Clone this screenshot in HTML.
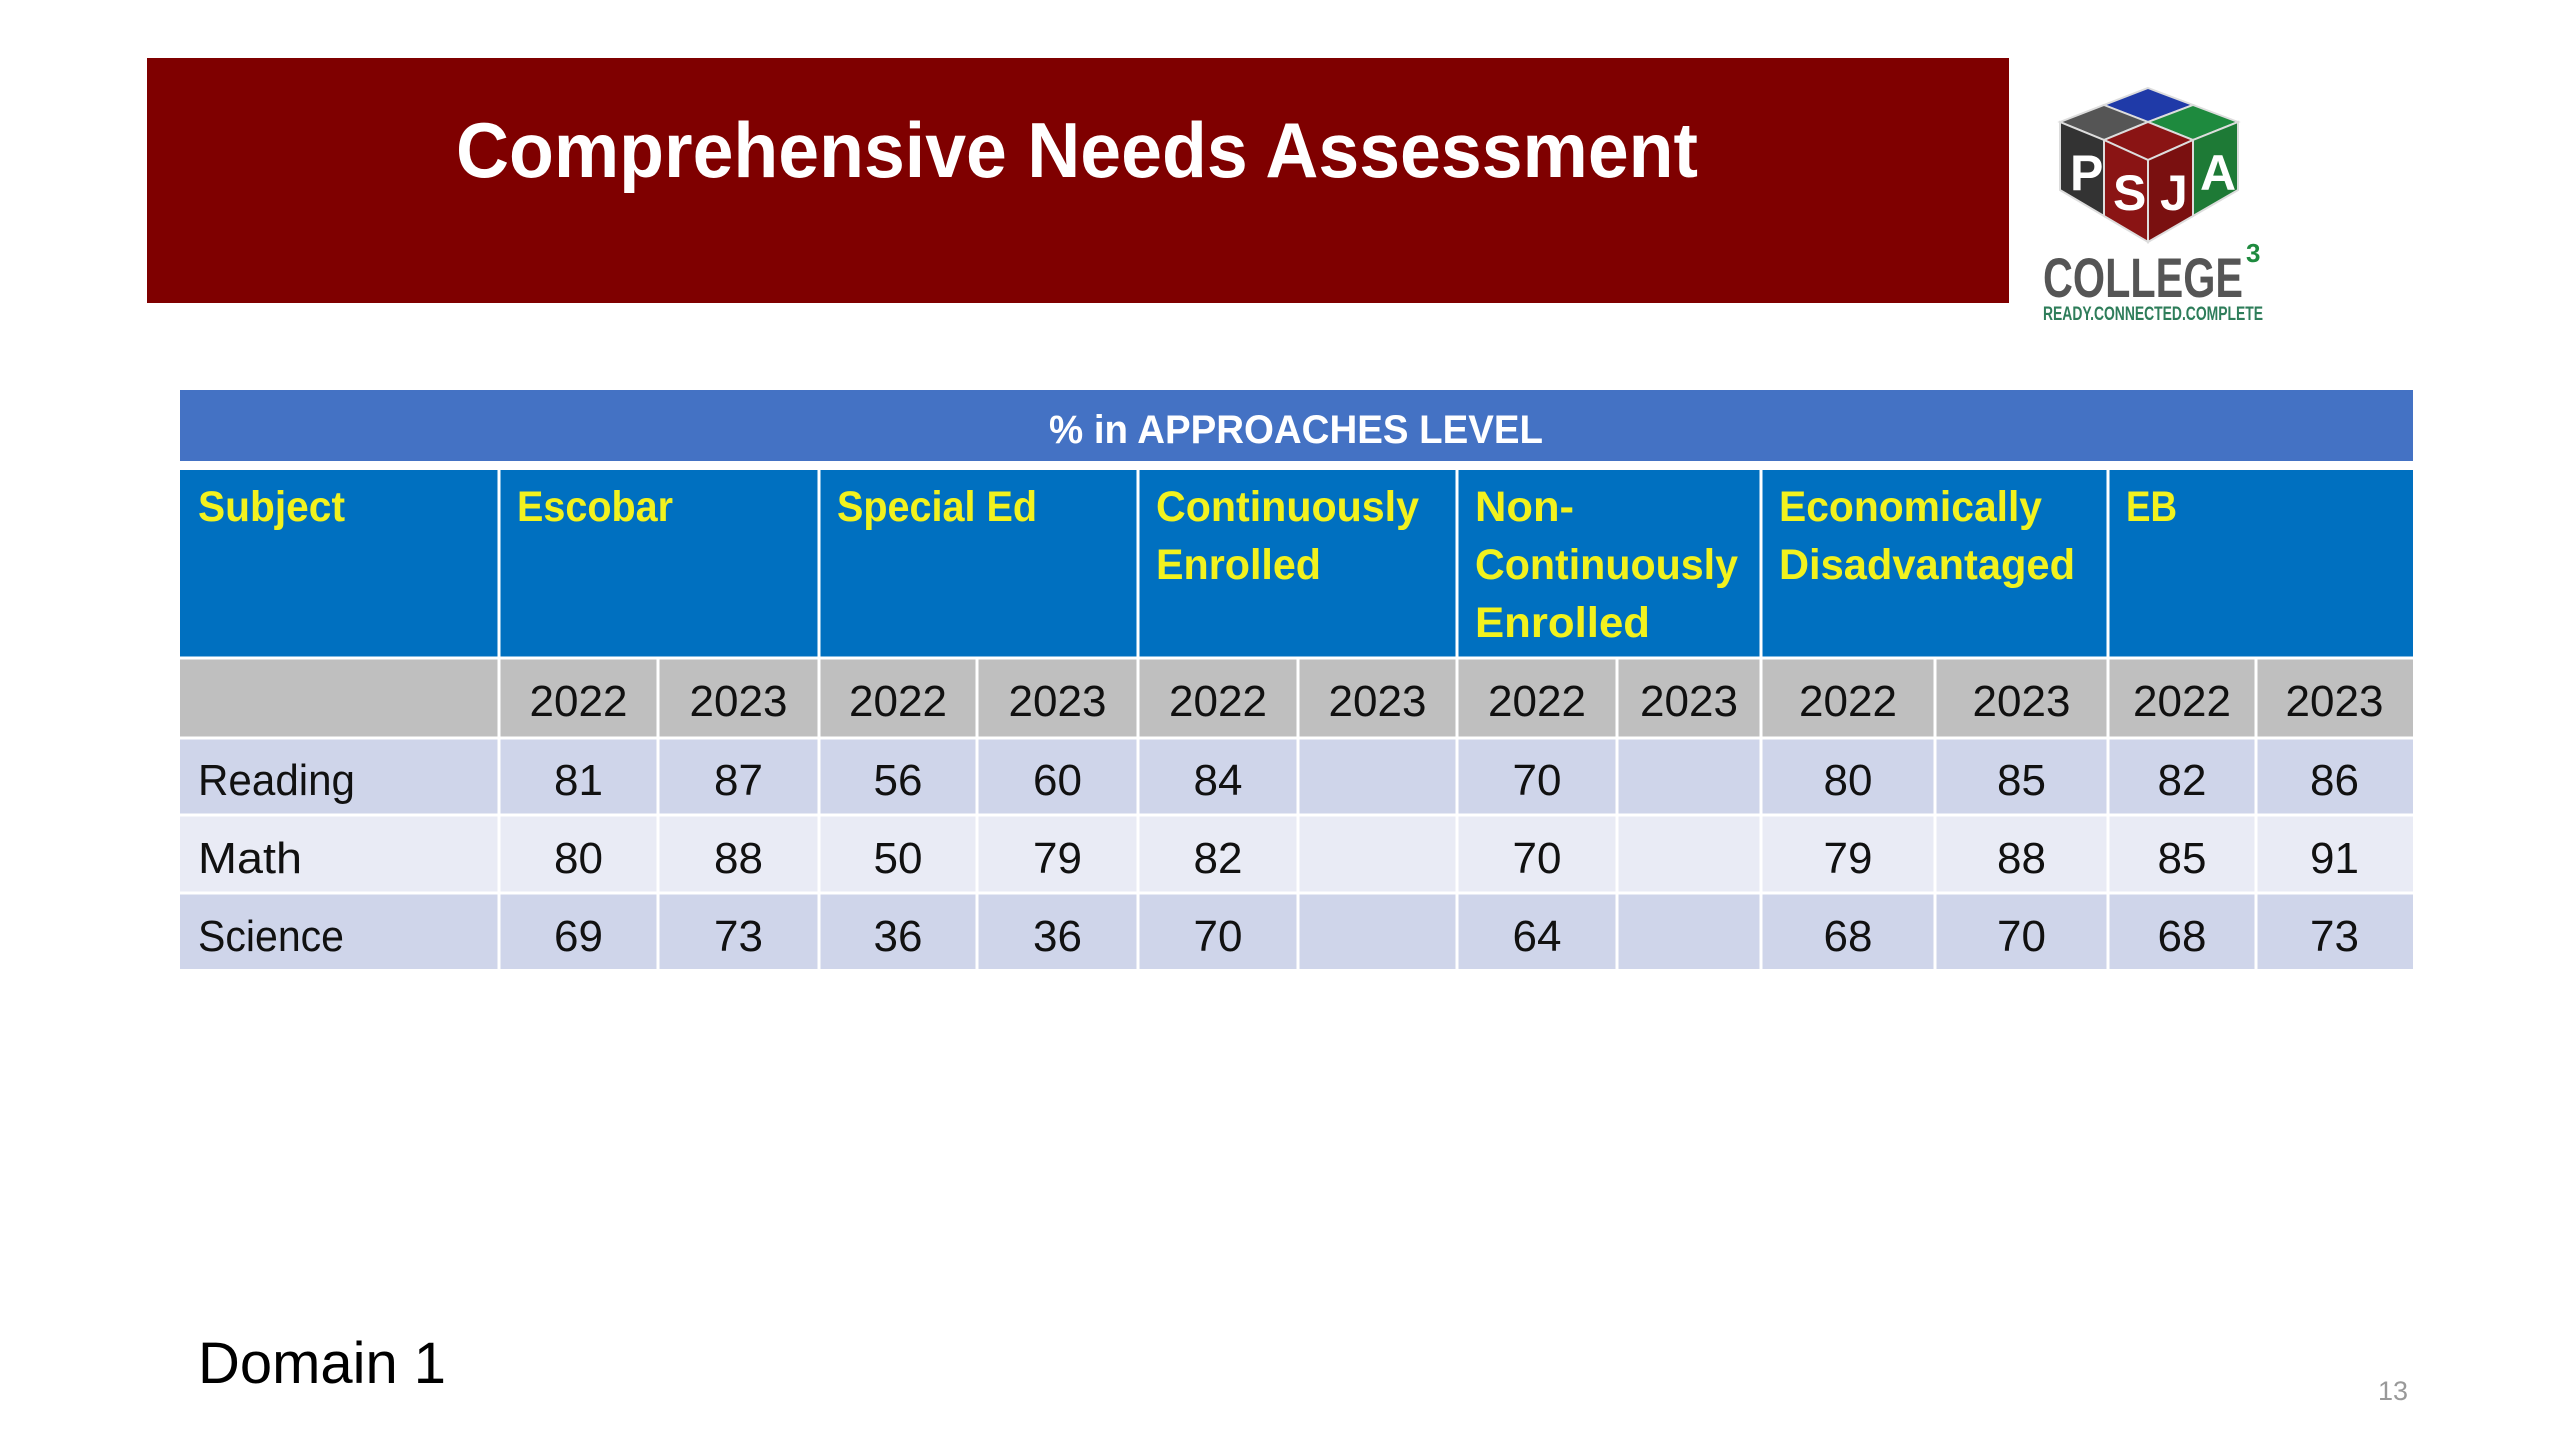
<!DOCTYPE html>
<html><head><meta charset="utf-8"><style>
html,body{margin:0;padding:0;background:#fff;width:2560px;height:1440px;overflow:hidden}
svg{display:block;font-family:"Liberation Sans",sans-serif}
</style></head><body>
<svg id="s" width="2560" height="1440" viewBox="0 0 2560 1440" xmlns="http://www.w3.org/2000/svg">
<rect x="147" y="58" width="1862" height="245" fill="#7f0000"/>
<text x="456" y="177" font-size="78" font-weight="bold" fill="#fff" textLength="1242" lengthAdjust="spacingAndGlyphs">Comprehensive Needs Assessment</text>
<g>
<polygon points="2148,88 2193,105 2148,122 2104,105" fill="#1f3aa8" stroke="#ddd" stroke-width="2"/>
<polygon points="2104,105 2148,122 2104,140 2060,122" fill="#555" stroke="#ddd" stroke-width="2"/>
<polygon points="2193,105 2238,122 2193,140 2148,122" fill="#1e8a3e" stroke="#ddd" stroke-width="2"/>
<polygon points="2148,122 2193,140 2148,160 2104,140" fill="#8a1414" stroke="#ddd" stroke-width="2"/>
<polygon points="2060,122 2104,140 2104,216 2060,190" fill="#333" stroke="#ddd" stroke-width="2"/>
<polygon points="2104,140 2148,160 2148,242 2104,216" fill="#8a1414" stroke="#ddd" stroke-width="2"/>
<polygon points="2148,160 2193,140 2193,216 2148,242" fill="#7a1010" stroke="#ddd" stroke-width="2"/>
<polygon points="2193,140 2238,122 2238,190 2193,216" fill="#1e7a36" stroke="#ddd" stroke-width="2"/>
<text x="2070" y="190" font-size="50" fill="#fff" font-weight="bold">P</text>
<text x="2113" y="210" font-size="50" fill="#fff" font-weight="bold">S</text>
<text x="2160" y="210" font-size="50" fill="#fff" font-weight="bold">J</text>
<text x="2200" y="190" font-size="50" fill="#fff" font-weight="bold">A</text>
<text x="2043" y="297" font-size="56" font-weight="bold" fill="#555" textLength="200" lengthAdjust="spacingAndGlyphs">COLLEGE</text>
<text x="2246" y="262" font-size="26" font-weight="bold" fill="#1e8a3e">3</text>
<text x="2043" y="320" font-size="19" font-weight="bold" fill="#2e7d5a" textLength="220" lengthAdjust="spacingAndGlyphs">READY.CONNECTED.COMPLETE</text>
</g>
<rect x="180" y="390" width="2233" height="71" fill="#4472c4"/>
<text x="1296" y="443" font-size="40" font-weight="bold" fill="#fff" text-anchor="middle" textLength="494" lengthAdjust="spacingAndGlyphs">% in APPROACHES LEVEL</text>
<g id="tbl"></g>
<text x="198" y="1383" font-size="58" fill="#000" textLength="248" lengthAdjust="spacingAndGlyphs">Domain 1</text>
<text x="2378" y="1400" font-size="27" fill="#999">13</text>
</svg>
<script>
const subjects = ["Reading","Math","Science"];
const years = ["2022","2023"];
const groups = ["Escobar","Special Ed","Continuously Enrolled","Non-Continuously Enrolled","Economically Disadvantaged","EB"];
const reading = ["81","87","56","60","84","","70","","80","85","82","86"];
const math = ["80","88","50","79","82","","70","","79","88","85","91"];
const science = ["69","73","36","36","70","","64","","68","70","68","73"];
const rowsData = [reading, math, science];

const NS="http://www.w3.org/2000/svg";
const g=document.getElementById('tbl');
const colX=[180,499,658,819,977,1138,1298,1457,1617,1761,1935,2108,2256,2413];
const rowY=[470,658,738,815,893,969];
function mk(tag,attrs,txt){const e=document.createElementNS(NS,tag);for(const k in attrs)e.setAttribute(k,attrs[k]);if(txt!==undefined)e.textContent=txt;g.appendChild(e);return e;}
// header background
let r=mk('rect',{x:180,y:470,width:2233,height:188,fill:'#0070c0'});


const bands=['#bfbfbf','#cfd5ea','#e9ebf5','#cfd5ea'];
for(let i=0;i<4;i++){
  let b=mk('rect',{x:180,y:rowY[i+1],width:2233,height:rowY[i+2]-rowY[i+1],fill:bands[i]});
  
  
}
// header labels
const hdrLines=[[["Subject",147]],[["Escobar",156]],[["Special Ed",200]],[["Continuously",263],["Enrolled",165]],[["Non-",99],["Continuously",263],[" Enrolled",175]],[["Economically",263],["Disadvantaged",296]],[["EB",51]]];
const hdrX=[180,499,819,1138,1457,1761,2108];
hdrLines.forEach((lines,ci)=>{
  lines.forEach((ln,li)=>{
    let t=mk('text',{x:hdrX[ci]+18,y:521+li*58,'font-size':43,'font-weight':'bold',fill:'#f2f21e',textLength:ln[1],lengthAdjust:'spacingAndGlyphs','xml:space':'preserve'},ln[0]);
    
    
  });
});
// years
for(let c=0;c<12;c++){
  let t=mk('text',{x:(colX[c+1]+colX[c+2])/2,y:716,'font-size':44,fill:'#111','text-anchor':'middle'},years[c%2]);
  
  
}
// subjects and values
const baseY=[795,873,951];
const subjW=[157,104,146];
subjects.forEach((s,ri)=>{
  let t=mk('text',{x:198,y:baseY[ri],'font-size':44,fill:'#111',textLength:subjW[ri],lengthAdjust:'spacingAndGlyphs'},s);
  
  
  rowsData[ri].forEach((v,ci)=>{
    let c=mk('text',{x:(colX[ci+1]+colX[ci+2])/2,y:baseY[ri],'font-size':44,fill:'#111','text-anchor':'middle'},v);
    
    
  });
});
// grid lines
for(let i=1;i<colX.length-1;i++){
  const isGroup=[1,3,5,7,9,11].includes(i);
  let l=mk('line',{x1:colX[i],x2:colX[i],y1:isGroup?470:658,y2:969,stroke:'#fff','stroke-width':3});
  
  
}
for(let i=1;i<rowY.length-1;i++){
  let l=mk('line',{x1:180,x2:2413,y1:rowY[i],y2:rowY[i],stroke:'#fff','stroke-width':3});
  
  
}
</script>
</body></html>
